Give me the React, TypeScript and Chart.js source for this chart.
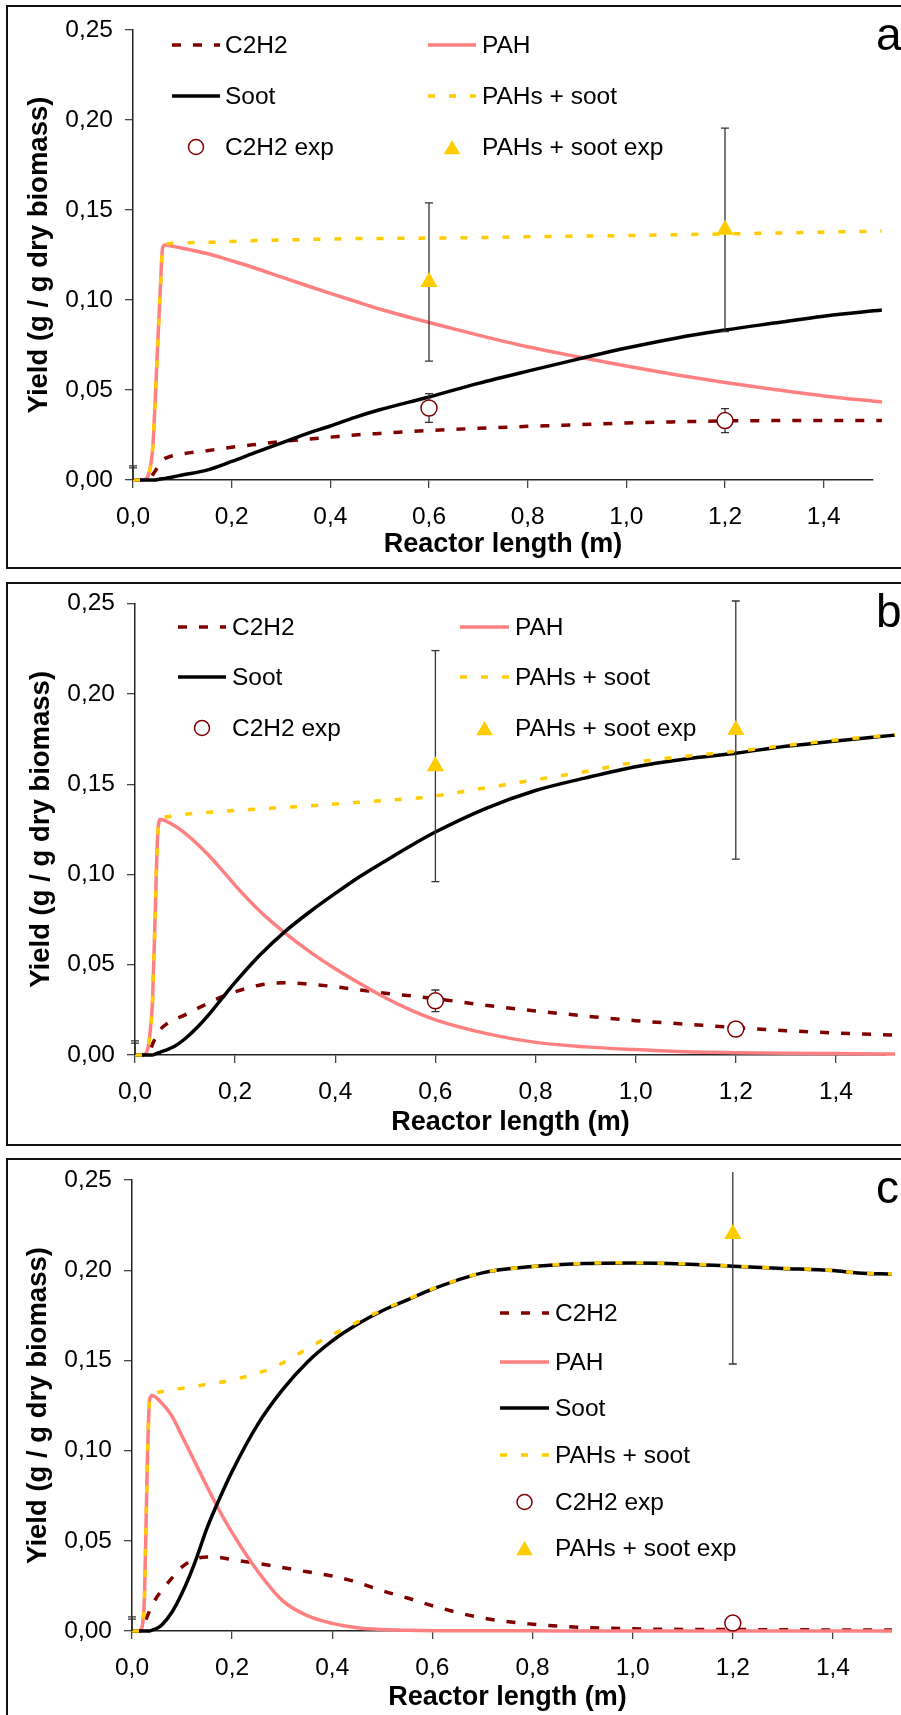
import React, { useEffect, useRef } from 'react';
import { Chart, registerables } from 'chart.js';

Chart.register(...registerables);

const FONT = "'Liberation Sans', Arial, Helvetica, sans-serif";

// ---------- Panel a ----------
const xA = [0, 0.02, 0.03, 0.04, 0.045, 0.05, 0.055, 0.06, 0.065, 0.08, 0.1, 0.15, 0.2, 0.25, 0.3, 0.35, 0.4, 0.45, 0.5, 0.6, 0.7, 0.8, 0.9, 1.0, 1.1, 1.2, 1.3, 1.4, 1.518];
const c2h2A = [0, 0, 0, 0.003, 0.005, 0.007, 0.009, 0.011, 0.012, 0.0135, 0.0145, 0.0163, 0.0182, 0.0198, 0.0213, 0.0226, 0.0238, 0.025, 0.0259, 0.0275, 0.0287, 0.0298, 0.0307, 0.0317, 0.0323, 0.0328, 0.033, 0.033, 0.033];
const pahA = [0, 0, 0.002, 0.018, 0.044, 0.075, 0.104, 0.129, 0.1305, 0.1298, 0.1288, 0.1258, 0.1218, 0.1175, 0.1128, 0.1082, 0.1037, 0.0993, 0.095, 0.0875, 0.0805, 0.074, 0.0685, 0.0633, 0.0585, 0.0542, 0.0503, 0.0467, 0.0433];
const sootA = [0, 0, 0, 0, 0, 0.0003, 0.0005, 0.0007, 0.0009, 0.0017, 0.0028, 0.0055, 0.0103, 0.0155, 0.0205, 0.0255, 0.03, 0.0348, 0.039, 0.0461, 0.0537, 0.0605, 0.067, 0.0733, 0.0788, 0.0833, 0.0872, 0.091, 0.0944];
const sumA = [0, 0, 0.002, 0.018, 0.044, 0.075, 0.104, 0.129, 0.131, 0.1315, 0.1318, 0.132, 0.1325, 0.133, 0.1333, 0.1336, 0.1339, 0.1341, 0.1342, 0.1344, 0.1347, 0.1351, 0.1355, 0.1358, 0.1363, 0.1367, 0.1372, 0.1377, 0.1383];
const expXA = [0, 0.6, 1.2];
const c2h2ExpA = [0, 0.04, 0.033];
const c2h2ErrA = [0.0078, 0.008, 0.0067];
const sumExpA = [0, 0.11, 0.139];
const sumErrA = [0.0067, 0.044, 0.0565];

// ---------- Panel b ----------
const xB = [0, 0.015, 0.025, 0.03, 0.035, 0.04, 0.045, 0.05, 0.06, 0.08, 0.1, 0.125, 0.15, 0.175, 0.2, 0.25, 0.3, 0.35, 0.4, 0.45, 0.5, 0.55, 0.6, 0.7, 0.8, 0.9, 1.0, 1.1, 1.2, 1.3, 1.4, 1.518];
const c2h2B = [0, 0, 0, 0.002, 0.006, 0.009, 0.012, 0.014, 0.0166, 0.0198, 0.0222, 0.0258, 0.0292, 0.0325, 0.035, 0.0388, 0.04, 0.0392, 0.0378, 0.036, 0.0342, 0.0328, 0.0312, 0.0276, 0.0244, 0.0216, 0.019, 0.0171, 0.0152, 0.0135, 0.0122, 0.011];
const pahB = [0, 0, 0.003, 0.012, 0.03, 0.075, 0.12, 0.1305, 0.1298, 0.1268, 0.1228, 0.1168, 0.1098, 0.102, 0.094, 0.0795, 0.0675, 0.057, 0.0478, 0.0395, 0.0317, 0.025, 0.0195, 0.012, 0.007, 0.0045, 0.003, 0.0018, 0.0013, 0.001, 0.0008, 0.0005];
const sootB = [0, 0, 0, 0, 0, 0.0005, 0.001, 0.0015, 0.0025, 0.005, 0.009, 0.0155, 0.0232, 0.0318, 0.0402, 0.0555, 0.0685, 0.0795, 0.0895, 0.099, 0.1075, 0.1158, 0.1235, 0.1365, 0.1465, 0.1535, 0.1597, 0.164, 0.1672, 0.171, 0.174, 0.1772];
const sumB = [0, 0, 0.003, 0.012, 0.03, 0.075, 0.12, 0.131, 0.1318, 0.1327, 0.1333, 0.134, 0.1345, 0.135, 0.1355, 0.1363, 0.1372, 0.138, 0.139, 0.14, 0.141, 0.142, 0.1435, 0.148, 0.1525, 0.157, 0.1622, 0.1655, 0.1682, 0.1715, 0.1745, 0.1775];
const expXB = [0, 0.6, 1.2];
const c2h2ExpB = [0, 0.03, 0.0144];
const c2h2ErrB = [0.0078, 0.006, 0.002];
const sumExpB = [0, 0.16, 0.18];
const sumErrB = [0.0066, 0.064, 0.0715];

// ---------- Panel c ----------
const xC = [0, 0.015, 0.02, 0.025, 0.03, 0.035, 0.04, 0.05, 0.06, 0.08, 0.1, 0.125, 0.15, 0.175, 0.2, 0.25, 0.3, 0.35, 0.4, 0.45, 0.5, 0.55, 0.6, 0.7, 0.8, 0.9, 1.0, 1.1, 1.2, 1.3, 1.4, 1.45, 1.518];
const c2h2C = [0, 0, 0.001, 0.004, 0.0078, 0.011, 0.014, 0.019, 0.0225, 0.0295, 0.0355, 0.0398, 0.041, 0.0408, 0.0395, 0.0375, 0.0352, 0.0328, 0.0305, 0.027, 0.0223, 0.0183, 0.014, 0.0072, 0.0038, 0.002, 0.0012, 0.0009, 0.0008, 0.0007, 0.0006, 0.0006, 0.0006];
const pahC = [0, 0, 0.002, 0.02, 0.085, 0.128, 0.1305, 0.129, 0.1262, 0.119, 0.108, 0.094, 0.08, 0.0665, 0.0545, 0.0335, 0.017, 0.0085, 0.0042, 0.0018, 0.0008, 0.0004, 0.0002, 0.0001, 0.0001, 0, 0, 0, 0, 0, 0, 0, 0];
const sootC = [0, 0, 0, 0, 0, 0, 0.0005, 0.0015, 0.0035, 0.0105, 0.021, 0.0375, 0.0572, 0.0735, 0.0885, 0.114, 0.1335, 0.149, 0.1608, 0.17, 0.1775, 0.1835, 0.1895, 0.1985, 0.202, 0.2037, 0.204, 0.2035, 0.2022, 0.201, 0.1998, 0.1985, 0.1978];
const sumC = [0, 0, 0.002, 0.02, 0.085, 0.128, 0.1315, 0.1322, 0.1328, 0.1337, 0.1345, 0.1355, 0.1368, 0.1378, 0.1392, 0.1428, 0.1485, 0.1565, 0.1642, 0.1712, 0.178, 0.1838, 0.1897, 0.1986, 0.2021, 0.2038, 0.2041, 0.2036, 0.2023, 0.2011, 0.1999, 0.1986, 0.1979];
const expXC = [0, 1.2];
const c2h2ExpC = [0, 0.0044];
const c2h2ErrC = [0.0078, 0.002];
const sumExpC = [0, 0.22];
const sumErrC = [0.0066, 0.072];

// ---------- Labels / axes ----------
const SERIES_LABELS = ['C2H2', 'PAH', 'Soot', 'PAHs + soot', 'C2H2 exp', 'PAHs + soot exp'];
const X_TITLE = 'Reactor length (m)';
const Y_TITLE = 'Yield (g / g dry biomass)';
const X_MIN = 0, X_MAX = 1.5, X_STEP = 0.2;
const Y_MIN = 0, Y_MAX = 0.25, Y_STEP = 0.05;

// ---------- Styles ----------
const C2H2_COLOR = '#800000';
const PAH_COLOR = '#FF8080';
const SOOT_COLOR = '#000000';
const SUM_COLOR = '#FFCC00';
const ERR_COLOR = '#333333';

const PANELS = [
  {
    letter: 'a', x: xA, c2h2: c2h2A, pah: pahA, soot: sootA, sum: sumA,
    expX: expXA, c2h2Exp: c2h2ExpA, c2h2Err: c2h2ErrA, sumExp: sumExpA, sumErr: sumErrA,
    canvasTop: 0, canvasH: 575, boxTop: 5,
    pad: { top: 30, left: 8, right: 28, bottom: 11 }, xTitlePad: 3,
    legendCols: [{ x0: 172, x1: 220, tx: 225 }, { x0: 428, x1: 476, tx: 482 }],
    legendRows: [45, 96, 147], twoCols: true,
  },
  {
    letter: 'b', x: xB, c2h2: c2h2B, pah: pahB, soot: sootB, sum: sumB,
    expX: expXB, c2h2Exp: c2h2ExpB, c2h2Err: c2h2ErrB, sumExp: sumExpB, sumErr: sumErrB,
    canvasTop: 577, canvasH: 575, boxTop: 582,
    pad: { top: 26, left: 10, right: 15, bottom: 13 }, xTitlePad: 0,
    legendCols: [{ x0: 178, x1: 226, tx: 232 }, { x0: 460, x1: 509, tx: 515 }],
    legendRows: [50, 100, 151], twoCols: true,
  },
  {
    letter: 'c', x: xC, c2h2: c2h2C, pah: pahC, soot: sootC, sum: sumC,
    expX: expXC, c2h2Exp: c2h2ExpC, c2h2Err: c2h2ErrC, sumExp: sumExpC, sumErr: sumErrC,
    canvasTop: 1153, canvasH: 562, boxTop: 1158,
    pad: { top: 27, left: 7, right: 18, bottom: 0 }, xTitlePad: 1,
    legendCols: [{ x0: 500, x1: 549, tx: 555 }],
    legendRows: [160, 209, 255, 302, 349, 395], twoCols: false,
  },
];

const decorPlugin = {
  id: 'panelDecor',
  beforeDatasetDraw(chart: any, args: any) {
    const ds = chart.data.datasets[args.index];
    if (!ds.errors) return;
    const { ctx, chartArea: a } = chart;
    const xs = chart.scales.x, ys = chart.scales.y;
    ctx.save();
    ctx.beginPath();
    ctx.rect(a.left - 12, a.top - 8, a.right - a.left + 24, a.bottom - a.top + 8);
    ctx.clip();
    ctx.strokeStyle = ERR_COLOR;
    ctx.lineWidth = 1.3;
    ctx.setLineDash([]);
    ds.data.forEach((p: any, i: number) => {
      const e = ds.errors[i];
      const px = xs.getPixelForValue(p.x);
      const y1 = ys.getPixelForValue(p.y + e);
      const y2 = ys.getPixelForValue(p.y - e);
      ctx.beginPath();
      ctx.moveTo(px, y1); ctx.lineTo(px, y2);
      ctx.moveTo(px - 4, y1); ctx.lineTo(px + 4, y1);
      ctx.moveTo(px - 4, y2); ctx.lineTo(px + 4, y2);
      ctx.stroke();
    });
    ctx.restore();
  },
  afterDraw(chart: any, _args: any, opts: any) {
    const ctx = chart.ctx;
    ctx.save();
    ctx.fillStyle = '#000';
    ctx.font = `46px ${FONT}`;
    ctx.textAlign = 'left';
    ctx.textBaseline = 'alphabetic';
    ctx.fillText(opts.letter, 876, 50);
    ctx.font = `24.5px ${FONT}`;
    ctx.textBaseline = 'middle';
    const datasets = chart.data.datasets;
    for (let i = 0; i < datasets.length; i++) {
      const ds = datasets[i];
      const row = opts.twoCols ? Math.floor(i / 2) : i;
      const col = opts.twoCols ? i % 2 : 0;
      const c = opts.cols[col];
      const y = opts.rows[row];
      const cx = (c.x0 + c.x1) / 2;
      ctx.save();
      if (ds.type === 'line') {
        ctx.strokeStyle = ds.borderColor;
        ctx.lineWidth = ds.borderWidth;
        ctx.setLineDash(ds.borderDash || []);
        ctx.beginPath();
        ctx.moveTo(c.x0, y);
        ctx.lineTo(c.x1, y);
        ctx.stroke();
      } else if (ds.pointStyle === 'circle') {
        ctx.beginPath();
        ctx.arc(cx, y, 7.5, 0, Math.PI * 2);
        ctx.fillStyle = ds.backgroundColor;
        ctx.fill();
        ctx.lineWidth = ds.borderWidth;
        ctx.strokeStyle = ds.borderColor;
        ctx.stroke();
      } else {
        const r = 9.5;
        const yc = y + r * 0.25;
        ctx.beginPath();
        ctx.moveTo(cx, yc - r);
        ctx.lineTo(cx + 0.866 * r, yc + 0.5 * r);
        ctx.lineTo(cx - 0.866 * r, yc + 0.5 * r);
        ctx.closePath();
        ctx.fillStyle = ds.backgroundColor;
        ctx.fill();
      }
      ctx.restore();
      ctx.fillStyle = '#000';
      ctx.fillText(ds.label, c.tx, y + 1);
    }
    ctx.restore();
  },
};

function buildConfig(p: any): any {
  const pts = (xs: number[], ys: number[]) => xs.map((x, i) => ({ x, y: ys[i] }));
  const lineDs = (label: string, ys: number[], color: string, width: number, dash: number[], order: number) => ({
    type: 'line',
    label,
    data: pts(p.x, ys),
    borderColor: color,
    backgroundColor: color,
    borderWidth: width,
    borderDash: dash,
    pointRadius: 0,
    pointHoverRadius: 0,
    fill: false,
    cubicInterpolationMode: 'monotone',
    clip: false,
    order,
  });
  const datasets = [
    lineDs(SERIES_LABELS[0], p.c2h2, C2H2_COLOR, 3.5, [9, 12], 5),
    lineDs(SERIES_LABELS[1], p.pah, PAH_COLOR, 3.5, [], 4),
    lineDs(SERIES_LABELS[2], p.soot, SOOT_COLOR, 3.5, [], 3),
    lineDs(SERIES_LABELS[3], p.sum, SUM_COLOR, 3.5, [7, 14], 2),
    {
      type: 'scatter',
      label: SERIES_LABELS[4],
      data: pts(p.expX, p.c2h2Exp),
      errors: p.c2h2Err,
      pointStyle: 'circle',
      pointRadius: p.expX.map((x: number) => (x === 0 ? 0 : 8)),
      pointHoverRadius: 0,
      backgroundColor: '#ffffff',
      borderColor: C2H2_COLOR,
      borderWidth: 1.5,
      clip: false,
      order: 1,
    },
    {
      type: 'scatter',
      label: SERIES_LABELS[5],
      data: pts(p.expX, p.sumExp),
      errors: p.sumErr,
      pointStyle: 'triangle',
      pointRadius: p.expX.map((x: number) => (x === 0 ? 0 : 10)),
      pointHoverRadius: 0,
      backgroundColor: SUM_COLOR,
      borderColor: SUM_COLOR,
      borderWidth: 0,
      clip: false,
      order: 0,
    },
  ];
  return {
    type: 'line',
    data: { datasets },
    plugins: [decorPlugin],
    options: {
      animation: false,
      responsive: false,
      maintainAspectRatio: false,
      events: [],
      layout: { padding: p.pad },
      plugins: {
        legend: { display: false },
        tooltip: { enabled: false },
        panelDecor: { letter: p.letter, cols: p.legendCols, rows: p.legendRows, twoCols: p.twoCols },
      },
      scales: {
        x: {
          type: 'linear',
          min: X_MIN,
          max: X_MAX,
          afterFit: (s: any) => { s.height = 84; },
          ticks: {
            stepSize: X_STEP,
            includeBounds: false,
            autoSkip: false,
            maxRotation: 0,
            padding: 15,
            color: '#000',
            font: { family: FONT, size: 24.5 },
            callback: (v: any) => Number(v).toFixed(1).replace('.', ','),
          },
          grid: { display: true, drawOnChartArea: false, drawTicks: true, tickLength: 8, color: '#444', lineWidth: 1.3 },
          border: { display: true, color: '#222', width: 1.5 },
          title: {
            display: true,
            text: X_TITLE,
            color: '#000',
            font: { family: FONT, size: 27, weight: 'bold' },
            padding: { top: 0, bottom: p.xTitlePad },
          },
        },
        y: {
          type: 'linear',
          min: Y_MIN,
          max: Y_MAX,
          afterFit: (s: any) => { s.width = 125; },
          ticks: {
            stepSize: Y_STEP,
            includeBounds: false,
            padding: 12,
            color: '#000',
            font: { family: FONT, size: 24.5 },
            callback: (v: any) => Number(v).toFixed(2).replace('.', ','),
          },
          grid: { display: true, drawOnChartArea: false, drawTicks: true, tickLength: 8, color: '#444', lineWidth: 1.3 },
          border: { display: true, color: '#222', width: 1.5 },
          title: {
            display: true,
            text: Y_TITLE,
            color: '#000',
            font: { family: FONT, size: 27.5, weight: 'bold' },
            padding: { top: 15, bottom: 0 },
          },
        },
      },
    },
  };
}

function Panel({ p }: { p: any }) {
  const ref = useRef<HTMLCanvasElement>(null);
  useEffect(() => {
    const chart = new Chart(ref.current as HTMLCanvasElement, buildConfig(p));
    return () => chart.destroy();
  }, []);
  return (
    <canvas
      ref={ref}
      width={901}
      height={p.canvasH}
      style={{ position: 'absolute', left: 0, top: p.canvasTop, width: 901, height: p.canvasH }}
    />
  );
}

export default function App() {
  return (
    <div style={{ position: 'absolute', left: 0, top: 0, width: 901, height: 1715, overflow: 'hidden', background: '#fff' }}>
      {PANELS.map((p) => (
        <Panel key={p.letter} p={p} />
      ))}
      {PANELS.map((p) => (
        <div
          key={'box' + p.letter}
          style={{
            position: 'absolute', left: 6, top: p.boxTop, width: 910, height: 564,
            border: '2px solid #111', boxSizing: 'border-box', pointerEvents: 'none',
          }}
        />
      ))}
    </div>
  );
}
